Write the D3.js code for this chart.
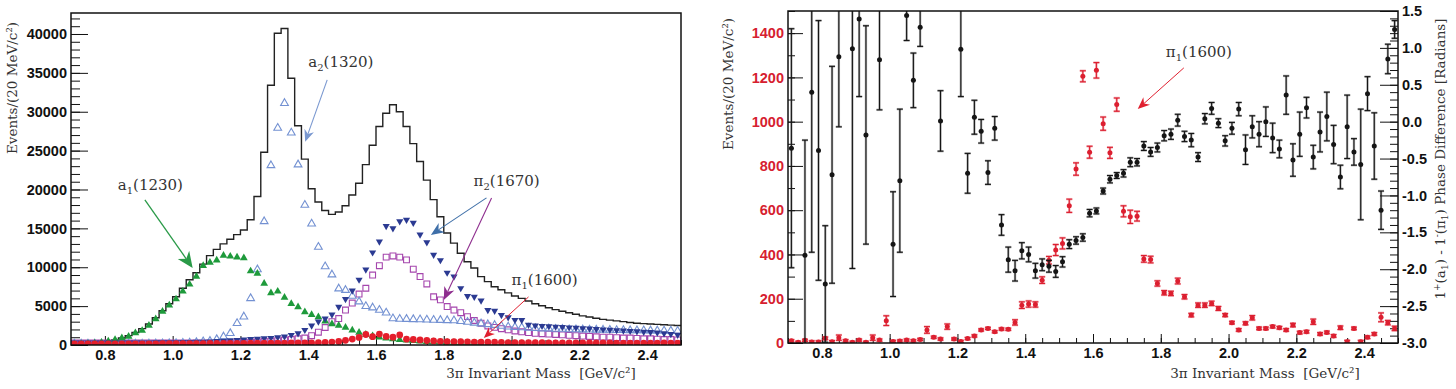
<!DOCTYPE html>
<html lang="en">
<head>
<meta charset="UTF-8">
<title>3pi invariant mass spectrum</title>
<script src="https://d3js.org/d3.v7.min.js"></script>
<style>
  body { margin: 0; background: #fff; }
  svg { display: block; }
  .tick text { font-family: "Liberation Sans", Arial, sans-serif; font-weight: bold; font-size: 14.5px; }
  .tick line { stroke: #111; }
  .title { font-family: "DejaVu Serif", serif; font-size: 13.5px; fill: #333; white-space: pre; }
  .note { font-family: "DejaVu Serif", serif; font-size: 15px; fill: #333; }
</style>
</head>
<body>
<div id="chart"></div>
<script>
// 20 MeV bins, 0.70 - 2.50 GeV
var binStart = 0.70, binWidth = 0.02, nBins = 90;
var mass = d3.range(nBins).map(i => +(binStart + binWidth * (i + 0.5)).toFixed(2));

// left panel: events per bin
var total = [
  200, 220, 250, 300, 380, 480, 650, 900, 1200, 1600,
  2100, 2700, 3500, 4400, 5300, 6200, 7300, 8400, 9300, 10400,
  11500, 12300, 13000, 13600, 14200, 14800, 16100, 19100, 24800, 33400,
  40100, 40700, 34300, 28200, 23900, 20100, 18400, 17300, 16800, 17100,
  17900, 19300, 20800, 23200, 25700, 28100, 29800, 30900, 30000, 28100,
  25900, 23600, 21200, 18700, 16500, 14400, 13100, 11800, 10700, 9900,
  8800, 8150, 7500, 7100, 6700, 6300, 6000, 5650, 5300, 5050,
  4800, 4550, 4350, 4150, 3950, 3750, 3600, 3450, 3300, 3200,
  3100, 3000, 2900, 2800, 2750, 2700, 2650, 2600, 2550, 2500
];
var a1 = [
  100, 120, 150, 220, 320, 480, 690, 900, 1100, 1550,
  1850, 2500, 3350, 4300, 5100, 5900, 6900, 7800, 8800, 10200,
  10600, 10900, 11500, 11400, 11300, 11200, 9500, 9200, 7900, 6700,
  6900, 6100, 5300, 4900, 4250, 3900, 3600, 3050, 2700, 2500,
  2250, 1900, 1600, 1350, 1150, 1000, 880, 780, 680, 600,
  530, 470, 420, 380, 340, 310, 280, 260, 240, 220,
  200, 190, 180, 170, 160, 150, 145, 140, 135, 130,
  128, 125, 122, 120, 118, 115, 112, 110, 108, 105,
  103, 100, 100, 98, 96, 95, 93, 92, 90, 90
];
var a2 = [
  150, 150, 150, 150, 150, 150, 150, 150, 150, 150,
  160, 170, 180, 190, 200, 220, 250, 290, 350, 450,
  500, 730, 1070, 1500, 2800, 3640, 6000, 9700, 15900, 23100,
  27900, 31100, 27300, 23200, 18000, 15600, 12600, 10100, 9050, 7250,
  7050, 6300, 5580, 4980, 4800, 4500, 4150, 3400, 3350, 3330,
  3300, 3280, 3250, 3220, 3200, 3170, 3150, 3050, 2950, 2850,
  2750, 2650, 2550, 2450, 2350, 2300, 2250, 2200, 2150, 2100,
  2100, 2050, 2050, 2000, 2000, 1980, 1960, 1950, 1940, 1920,
  1900, 1900, 1880, 1870, 1860, 1850, 1840, 1830, 1820, 1800
];
var pi2a = [
  300, 300, 300, 300, 300, 300, 300, 320, 320, 320,
  330, 330, 340, 350, 350, 360, 370, 380, 400, 420,
  450, 500, 550, 600, 650, 700, 750, 800, 850, 900,
  990, 1070, 1290, 1500, 1930, 2500, 3000, 3400, 3900, 4900,
  5900, 7000, 8400, 9700, 11900, 13300, 15300, 15000, 15900, 16100,
  15700, 14200, 13200, 11600, 10900, 9300, 8800, 7300, 6300, 6200,
  5700, 4500, 4400, 3850, 3550, 3220, 3200, 2600, 2500, 2450,
  2400, 2350, 2300, 2250, 2200, 2150, 2100, 2050, 2000, 1950,
  1900, 1850, 1800, 1750, 1700, 1650, 1600, 1500, 1400, 1300
];
var pi2b = [
  250, 250, 250, 250, 250, 250, 250, 250, 250, 250,
  250, 250, 250, 250, 250, 250, 250, 250, 250, 250,
  260, 270, 280, 290, 300, 330, 360, 400, 450, 500,
  560, 640, 700, 800, 900, 1200, 1650, 2250, 3000, 3400,
  4500, 5400, 6550, 7300, 9000, 10200, 11300, 11450, 11300, 10950,
  9750, 8800, 7850, 6200, 5800, 4950, 4500, 4150, 3650, 3150,
  2800, 2450, 2270, 2100, 1950, 1800, 1700, 1600, 1500, 1450,
  1400, 1350, 1300, 1250, 1200, 1150, 1100, 1050, 1000, 1000,
  950, 900, 900, 850, 800, 800, 750, 700, 700, 650
];
var pi1 = [
  150, 150, 150, 150, 150, 150, 150, 150, 150, 150,
  150, 150, 150, 160, 160, 170, 170, 180, 180, 190,
  200, 200, 210, 210, 220, 220, 230, 230, 240, 240,
  250, 250, 260, 260, 270, 280, 300, 330, 380, 450,
  600, 770, 980, 1350, 1070, 1400, 1100, 1000, 1300, 750,
  720, 650, 580, 520, 470, 440, 420, 430, 400, 370,
  360, 360, 360, 340, 320, 300, 290, 300, 300, 290,
  280, 280, 280, 270, 270, 270, 260, 260, 260, 260,
  250, 250, 250, 240, 250, 240, 250, 260, 250, 250
];

// right panel: pi1(1600) intensity (left axis) and phase difference (right axis)
var pi1Events = [
  10, 3, 12, 5, 5, 21, 6, 24, 10, 3,
  13, 3, 24, 13, 101, 7, 9, 13, 10, 16,
  59, 26, 18, 74, 18, 7, 20, 32, 59, 66,
  51, 63, 62, 93, 171, 176, 174, 284, 374, 420,
  450, 620, 786, 1205, 862, 1232, 991, 859, 1077, 595,
  570, 573, 380, 377, 269, 227, 224, 280, 209, 126,
  171, 171, 179, 156, 126, 92, 59, 89, 114, 66,
  66, 74, 69, 59, 81, 47, 51, 96, 41, 48,
  32, 69, 6, 66, 6, 26, 41, 116, 92, 66
];
var pi1EventsErr = [
  5, 5, 5, 5, 5, 6, 5, 12, 5, 5,
  5, 5, 12, 5, 22, 5, 5, 5, 5, 5,
  15, 5, 5, 12, 5, 5, 5, 5, 5, 5,
  5, 5, 5, 12, 15, 14, 12, 15, 17, 25,
  25, 30, 28, 25, 27, 35, 30, 25, 30, 25,
  30, 22, 15, 15, 12, 10, 10, 13, 10, 8,
  10, 10, 10, 9, 7, 6, 6, 7, 10, 6,
  6, 6, 6, 6, 8, 6, 6, 12, 6, 6,
  6, 8, 6, 6, 6, 6, 6, 20, 10, 10
];
var phase = [
  -0.36, null, -1.81, 0.40, -0.39, -2.20, -0.72, 0.88, null, 0.99,
  1.39, -0.18, null, 0.84, null, -1.66, -0.80, 1.44, 0.56, 1.28,
  null, null, 0.01, null, null, 0.98, -0.70, 0.06, -0.13, -0.69,
  -0.09, -1.40, -1.87, -2.02, -1.75, -1.80, -2.02, -1.94, -1.96, -2.03,
  -1.90, -1.66, -1.61, -1.57, -1.24, -1.21, -0.94, -0.78, -0.73, -0.70,
  -0.55, -0.55, -0.33, -0.41, -0.35, -0.19, -0.17, 0.02, -0.20, -0.25,
  -0.48, 0.04, 0.18, -0.02, -0.26, -0.09, 0.17, -0.38, -0.07, -0.17,
  0.00, -0.22, -0.37, 0.36, -0.52, -0.17, 0.19, -0.48, -0.14, 0.07,
  -0.31, -0.75, -0.07, -0.41, -0.58, 0.38, -0.33, -1.20, 0.85, 1.25
];
var phaseErr = [
  1.62, 0, 1.56, 2.17, 1.76, 0.79, 1.47, 0.95, 0, 2.98,
  1.05, 1.48, 0, 0.68, 0, 0.71, 0.97, 0.34, 0.37, 0.26,
  0, 0, 0.41, 0, 0, 0.64, 0.27, 0.23, 0.16, 0.16,
  0.16, 0.14, 0.17, 0.14, 0.11, 0.10, 0.10, 0.08, 0.08, 0.08,
  0.07, 0.06, 0.05, 0.05, 0.05, 0.04, 0.04, 0.05, 0.04, 0.05,
  0.06, 0.05, 0.06, 0.06, 0.06, 0.07, 0.07, 0.08, 0.07, 0.09,
  0.06, 0.07, 0.08, 0.06, 0.07, 0.08, 0.09, 0.20, 0.15, 0.17,
  0.20, 0.20, 0.12, 0.26, 0.22, 0.30, 0.14, 0.16, 0.27, 0.33,
  0.26, 0.16, 0.43, 0.18, 0.75, 0.23, 0.45, 0.26, 0.20, 0.12
];

var xTicks = [0.8, 1.0, 1.2, 1.4, 1.6, 1.8, 2.0, 2.2, 2.4];
var yTicksL = [0, 5000, 10000, 15000, 20000, 25000, 30000, 35000, 40000];
var yTicksN = [0, 200, 400, 600, 800, 1000, 1200, 1400];
var yTicksP = [-3.0, -2.5, -2.0, -1.5, -1.0, -0.5, 0.0, 0.5, 1.0, 1.5];

var W = 1456, H = 389;
var svg = d3.select("#chart").append("svg").attr("width", W).attr("height", H);

var xL = d3.scaleLinear().domain([0.7, 2.5]).range([71, 681]);
var yL = d3.scaleLinear().domain([0, 42700]).range([345, 13]);
var xR = d3.scaleLinear().domain([0.7, 2.5]).range([788, 1398]);
var yN = d3.scaleLinear().domain([0, 1500]).range([343, 11]);
var yP = d3.scaleLinear().domain([-3, 1.5]).range([343, 11]);

var minorX = d3.range(0.7, 2.5001, 0.05).map(d => +d.toFixed(2));

function clean(g) { g.select(".domain").remove(); }

function clip(id, x, y) {
  svg.append("clipPath").attr("id", id).append("rect")
    .attr("x", x.range()[0]).attr("y", y.range()[1])
    .attr("width", x.range()[1] - x.range()[0])
    .attr("height", y.range()[0] - y.range()[1]);
}
clip("clipL", xL, yL);
clip("clipR", xR, yN);

function arrow(g, x1, y1, x2, y2, color, len, half, lw) {
  var dx = x2 - x1, dy = y2 - y1, L = Math.sqrt(dx * dx + dy * dy);
  var ux = dx / L, uy = dy / L, px = -uy, py = ux;
  var bx = x2 - ux * len, by = y2 - uy * len;
  var nx = x2 - ux * len * 0.7, ny = y2 - uy * len * 0.7;
  g.append("line").attr("x1", x1).attr("y1", y1).attr("x2", nx).attr("y2", ny)
    .attr("stroke", color).attr("stroke-width", lw);
  g.append("path")
    .attr("d", "M" + x2 + "," + y2 + "L" + (bx + px * half) + "," + (by + py * half) +
      "L" + nx + "," + ny + "L" + (bx - px * half) + "," + (by - py * half) + "Z")
    .attr("fill", color);
}

function label(g, x, y, base, sub, rest) {
  var t = g.append("text").attr("class", "note").attr("x", x).attr("y", y);
  t.append("tspan").text(base);
  t.append("tspan").attr("dy", 4).attr("font-size", 10).text(sub);
  t.append("tspan").attr("dy", -4).text(rest);
}

// ---------------- left panel ----------------
var left = svg.append("g");

left.append("g").attr("transform", "translate(0,345)")
  .call(d3.axisBottom(xL).tickValues(minorX).tickSize(-5).tickFormat(""))
  .call(clean);
left.append("g").attr("transform", "translate(0,345)")
  .call(d3.axisBottom(xL).tickValues(xTicks).tickSize(-9).tickPadding(5).tickFormat(d3.format(".1f")))
  .call(clean);
left.append("g").attr("transform", "translate(71,0)")
  .call(d3.axisLeft(yL).tickValues(d3.range(0, 42001, 1000)).tickSize(-9).tickFormat(""))
  .call(clean);
left.append("g").attr("transform", "translate(71,0)")
  .call(d3.axisLeft(yL).tickValues(yTicksL).tickSize(-17).tickPadding(4).tickFormat(d3.format("d")))
  .call(clean);
left.selectAll(".tick text").attr("fill", "#111");

var plotL = left.append("g").attr("clip-path", "url(#clipL)");

var histPts = mass.map((m, i) => [m - binWidth / 2, total[i]]);
histPts.push([2.5, total[nBins - 1]]);
plotL.append("path")
  .attr("d", d3.line().x(d => xL(d[0])).y(d => yL(d[1])).curve(d3.curveStepAfter)(histPts))
  .attr("fill", "none").attr("stroke", "#222").attr("stroke-width", 1.4);

function markers(series, type, size, fill, stroke, rot) {
  plotL.append("g").selectAll("path").data(series).join("path")
    .attr("d", d3.symbol().type(type).size(size))
    .attr("transform", (d, i) => "translate(" + xL(mass[i]) + "," + yL(d) + ")" + (rot ? " rotate(180)" : ""))
    .attr("fill", fill).attr("stroke", stroke).attr("stroke-width", stroke === "none" ? 0 : 1.1);
}
markers(pi2b, d3.symbolSquare, 34, "none", "#a546ad", false);
markers(a2, d3.symbolTriangle, 26, "none", "#7391d2", false);
markers(a1, d3.symbolTriangle, 26, "#1e9a3b", "none", false);
markers(pi2a, d3.symbolTriangle, 22, "#2b3a92", "none", true);
markers(pi1, d3.symbolCircle, 36, "#e41e2b", "none", false);

left.append("rect").attr("x", 71).attr("y", 13).attr("width", 610).attr("height", 332)
  .attr("fill", "none").attr("stroke", "#111").attr("stroke-width", 1.5);

// annotations (data coordinates)
label(left, xL(0.838), yL(19950), "a", "1", "(1230)");
arrow(left, xL(0.918), yL(18660), xL(1.059), yL(9910), "#2a9a48", 16, 7, 1.3);
label(left, xL(1.40), yL(35780), "a", "2", "(1320)");
arrow(left, xL(1.456), yL(34100), xL(1.391), yL(26130), "#7a98d0", 12, 5, 1.1);
label(left, xL(1.888), yL(20460), "π", "2", "(1670)");
arrow(left, xL(1.926), yL(18920), xL(1.762), yL(14160), "#3f6fa8", 13, 5.5, 1.1);
arrow(left, xL(1.941), yL(18920), xL(1.800), yL(5790), "#8e2d8e", 13, 5.5, 1.1);
label(left, xL(2.0), yL(7720), "π", "1", "(1600)");
arrow(left, xL(2.05), yL(6180), xL(1.918), yL(900), "#e02030", 11, 4.5, 1.0);

left.append("text").attr("class", "title")
  .attr("transform", "translate(17,88) rotate(-90)").attr("text-anchor", "middle")
  .text("Events/(20 MeV/c²)");
left.append("text").attr("class", "title").attr("x", 541).attr("y", 378)
  .attr("text-anchor", "middle").text("3π Invariant Mass  [GeV/c²]");

// ---------------- right panel ----------------
var right = svg.append("g");

right.append("g").attr("transform", "translate(0,343)")
  .call(d3.axisBottom(xR).tickValues(minorX).tickSize(-5).tickFormat(""))
  .call(clean);
right.append("g").attr("transform", "translate(0,343)")
  .call(d3.axisBottom(xR).tickValues(xTicks).tickSize(-9).tickPadding(5).tickFormat(d3.format(".1f")))
  .call(clean);
right.append("g").attr("transform", "translate(788,0)")
  .call(d3.axisLeft(yN).tickValues(d3.range(0, 1501, 100)).tickSize(-7).tickFormat(""))
  .call(clean);
var axN = right.append("g").attr("transform", "translate(788,0)")
  .call(d3.axisLeft(yN).tickValues(yTicksN).tickSize(-15).tickPadding(4).tickFormat(d3.format("d")))
  .call(clean);
right.append("g").attr("transform", "translate(1398,0)")
  .call(d3.axisRight(yP).tickValues(d3.range(-30, 16, 1).map(d => d / 10)).tickSize(-8).tickFormat(""))
  .call(clean);
right.append("g").attr("transform", "translate(1398,0)")
  .call(d3.axisRight(yP).tickValues(yTicksP).tickSize(-18).tickPadding(4).tickFormat(d => d.toFixed(1)))
  .call(clean);
right.selectAll(".tick text").attr("fill", "#111");
axN.selectAll(".tick text").attr("fill", "#d6202f");

var plotR = right.append("g").attr("clip-path", "url(#clipR)");

function errPoints(vals, errs, y, color, halo) {
  var g = plotR.append("g");
  vals.forEach(function (v, i) {
    if (v === null) return;
    var x = xR(mass[i]), e = errs[i];
    if (e > 0) {
      var y1 = y(v + e), y2 = y(v - e);
      [[halo, 2.4], [color, 1.1]].forEach(function (s) {
        g.append("line").attr("x1", x).attr("x2", x).attr("y1", y1).attr("y2", y2)
          .attr("stroke", s[0]).attr("stroke-width", s[1]);
        g.append("line").attr("x1", x - 3).attr("x2", x + 3).attr("y1", y1).attr("y2", y1)
          .attr("stroke", s[0]).attr("stroke-width", s[1]);
        g.append("line").attr("x1", x - 3).attr("x2", x + 3).attr("y1", y2).attr("y2", y2)
          .attr("stroke", s[0]).attr("stroke-width", s[1]);
      });
    }
    g.append("circle").attr("cx", x).attr("cy", y(v)).attr("r", 2.5).attr("fill", color);
  });
}
errPoints(pi1Events, pi1EventsErr, yN, "#dc1f30", "rgba(220,31,48,0.35)");
errPoints(phase, phaseErr, yP, "#151515", "rgba(40,40,40,0.35)");

right.append("rect").attr("x", 788).attr("y", 11).attr("width", 610).attr("height", 332)
  .attr("fill", "none").attr("stroke", "#111").attr("stroke-width", 1.5);

label(right, xR(1.815), yN(1292), "π", "1", "(1600)");
arrow(right, xR(1.868), yN(1243), xR(1.732), yN(1057), "#e02030", 12, 5, 1.0);

right.append("text").attr("class", "title")
  .attr("transform", "translate(733,84) rotate(-90)").attr("text-anchor", "middle")
  .text("Events/(20 MeV/c²)");
right.append("text").attr("class", "title").attr("x", 1265).attr("y", 378)
  .attr("text-anchor", "middle").text("3π Invariant Mass  [GeV/c²]");

var tp = right.append("text").attr("class", "title")
  .attr("transform", "translate(1445,159) rotate(-90)").attr("text-anchor", "middle");
tp.append("tspan").text("1");
tp.append("tspan").attr("dy", -5).attr("font-size", 9).text("+");
tp.append("tspan").attr("dy", 5).text("(a");
tp.append("tspan").attr("dy", 3).attr("font-size", 9).text("1");
tp.append("tspan").attr("dy", -3).text(") - 1");
tp.append("tspan").attr("dy", -5).attr("font-size", 9).text("-");
tp.append("tspan").attr("dy", 5).text("(π");
tp.append("tspan").attr("dy", 3).attr("font-size", 9).text("1");
tp.append("tspan").attr("dy", -3).text(") Phase Difference [Radians]");
</script>
</body>
</html>
